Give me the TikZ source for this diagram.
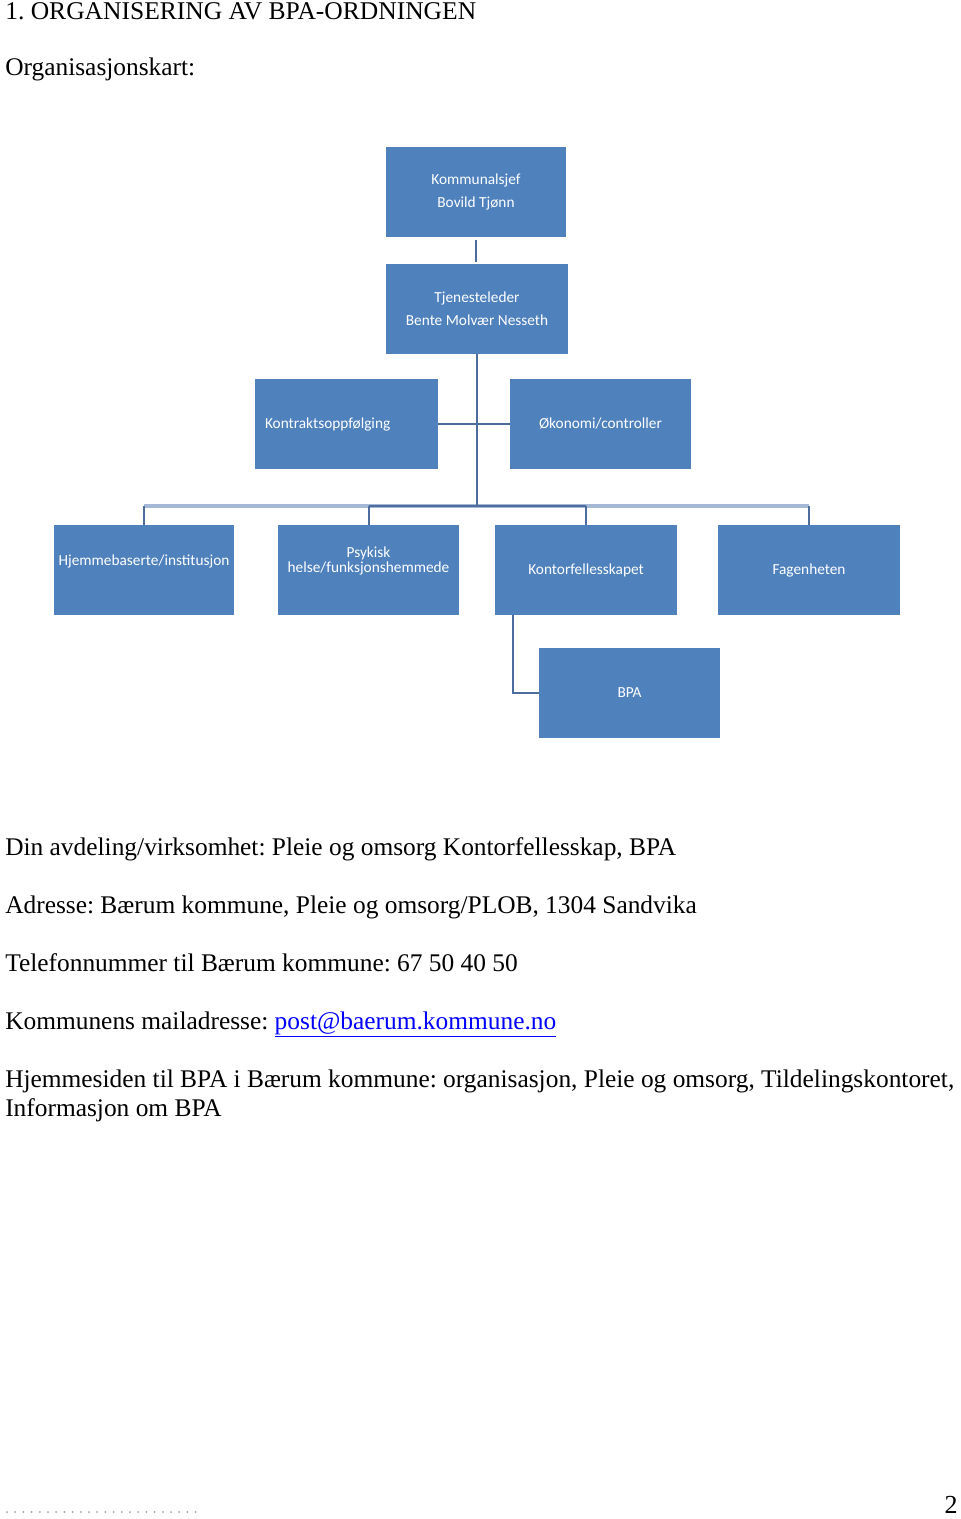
\documentclass[tikz,border=0pt]{standalone}
\usepackage{fontspec}
\setmainfont{Liberation Serif}
\newfontfamily\boxfont{Carlito}
\definecolor{boxblue}{HTML}{4F81BD}
\definecolor{linelight}{HTML}{A5B9D6}
\definecolor{linedark}{HTML}{4C6D9E}
\definecolor{linkblue}{HTML}{0000FF}
\definecolor{dotgrey}{HTML}{A0A0A0}
\frenchspacing
\begin{document}
\begin{tikzpicture}[x=0.75pt,y=-0.75pt,
  orgbox/.style={fill=boxblue, draw=none, text=white, inner sep=0pt,
    minimum height=67.5pt, align=center,
    font=\boxfont\fontsize{11.5}{17}\selectfont},
  body/.style={anchor=base west, inner sep=0pt, font=\fontsize{19.05}{22}\selectfont},
  conn/.style={draw=linedark, line width=1.5pt},
  bus/.style={draw=linelight, line width=2.6pt}]
\useasboundingbox[fill=white] (0,0) rectangle (960,1519);

% header texts
\node[body, font=\fontsize{19.15}{22}\selectfont] (title) at (5,20) {1. ORGANISERING AV BPA-ORDNINGEN};
\node[body] (sub) at (5,76) {Organisasjonskart:};

% org chart boxes
\node[orgbox, minimum width=135pt] (komm) at (476,192) {Kommunalsjef\\Bovild Tjønn};
\node[orgbox, minimum width=136.5pt] (tjen) at (477,309) {Tjenesteleder\\Bente Molvær Nesseth};
\node[orgbox, text width=122.25pt, inner xsep=7.5pt, align=left] (kontr) at (346.5,424) {Kontraktsoppfølging};
\node[orgbox, minimum width=135.75pt] (okon) at (600.5,424) {Økonomi/controller};
\node[orgbox, minimum width=135pt] (hjem) at (144,570) {\raisebox{6.75pt}[\height][\depth]{Hjemmebaserte/institusjon}};
\node[orgbox, minimum width=135.75pt] (psyk) at (368.5,570) {\raisebox{7pt}[\height][\depth]{\begin{tabular}{@{}c@{}}Psykisk\\[-5.5pt]helse/funksjonshemmede\end{tabular}}};
\node[orgbox, minimum width=136.5pt] (kont) at (586,570) {Kontorfellesskapet};
\node[orgbox, minimum width=136.5pt] (fag) at (809,570) {Fagenheten};
\node[orgbox, minimum width=135.75pt] (bpa) at (629.5,693) {BPA};

% connectors
\coordinate (bus) at (477,506);
\draw[conn] ([yshift=-2pt]komm.south) -- ([yshift=1.5pt]komm.south |- tjen.north);
\draw[conn] (kontr.east) -- (okon.west);
\draw[bus] (hjem.north |- bus) -- (fag.north |- bus);
\draw[conn] (psyk.north |- bus) -- (kont.north |- bus);
\draw[conn] (tjen.south) -- (bus);
\draw[conn] (hjem.north |- bus) -- (hjem.north);
\draw[conn] (psyk.north |- bus) -- (psyk.north);
\draw[conn] (kont.north |- bus) -- (kont.north);
\draw[conn] (fag.north |- bus) -- (fag.north);
\coordinate (kb) at ([xshift=13.5pt]kont.south west);
\draw[conn] (kb) |- (bpa.west);

% body texts
\node[body] (l1) at (5,855) {Din avdeling/virksomhet: Pleie og omsorg Kontorfellesskap, BPA};
\node[body] (l2) at (5,913) {Adresse: Bærum kommune, Pleie og omsorg/PLOB, 1304 Sandvika};
\node[body] (l3) at (5,971) {Telefonnummer til Bærum kommune: 67 50 40 50};
\node[body] (l4) at (5,1029) {Kommunens mailadresse: \textcolor{linkblue}{\underline{post@baerum.kommune.no}}};
\node[body] (l5) at (5,1087) {Hjemmesiden til BPA i Bærum kommune: organisasjon, Pleie og omsorg, Tildelingskontoret,};
\node[body] (l6) at (5,1116) {Informasjon om BPA};

% footer
\coordinate (dotsL) at (7,1512);
\coordinate (dotsR) at (203,1512);
\draw[dotgrey, line width=1.5pt, line cap=round, dash pattern=on 0pt off 6.15pt] (dotsL) -- (dotsR);
\node[anchor=base east, inner sep=0pt, font=\fontsize{19.5}{22}\selectfont] (page) at (958,1513) {2};
\end{tikzpicture}
\end{document}
